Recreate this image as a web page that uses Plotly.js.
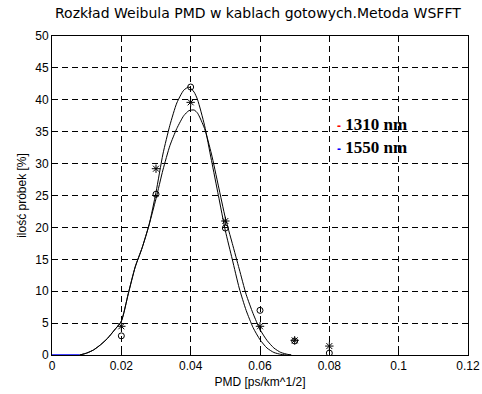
<!DOCTYPE html>
<html>
<head>
<meta charset="utf-8">
<script src="https://cdn.plot.ly/plotly-3.0.1.min.js"></script>
<style>html,body{margin:0;padding:0;background:#fff;}#chart{width:482px;height:394px;}</style>
</head>
<body>
<div id="chart"></div>
<script>
// Measured sample points (PMD, % of samples)
const pmdPoints = [0.02, 0.03, 0.04, 0.05, 0.06, 0.07, 0.08];
const stars1310 = [4.5, 29.2, 39.6, 21.0, 4.5, 2.3, 1.4];
const circles1550 = [3.0, 25.2, 42.0, 19.9, 7.0, 2.2, 0.3];

// Fitted Weibull curves
const curveX = [0.008, 0.010, 0.012, 0.014, 0.016, 0.018, 0.020, 0.022, 0.024, 0.026, 0.028, 0.030, 0.032, 0.034, 0.036, 0.038, 0.0395, 0.041, 0.042, 0.044, 0.046, 0.048, 0.050, 0.052, 0.054, 0.056, 0.058, 0.060, 0.062, 0.064, 0.066, 0.068, 0.069];
const curveA = [0, 0.3, 0.8, 1.6, 2.6, 3.9, 5.3, 9.6, 13.8, 16.8, 20.4, 25.5, 31.5, 36.0, 39.5, 41.5, 42.0, 41.2, 40.0, 36.0, 30.5, 25.0, 19.5, 15.0, 10.5, 7.0, 4.3, 2.4, 1.1, 0.4, 0.1, 0, 0];
const curveB = [0, 0.3, 0.8, 1.6, 2.6, 3.9, 5.3, 9.6, 13.8, 16.8, 20.4, 24.5, 29.0, 32.8, 35.5, 37.5, 38.3, 38.4, 37.9, 35.5, 31.5, 26.5, 21.5, 17.5, 13.5, 9.5, 6.5, 4.0, 2.3, 1.1, 0.4, 0.1, 0];
const baseX = [0, 0.008];
const baseY = [0, 0];

const xTicks = [0, 0.02, 0.04, 0.06, 0.08, 0.1, 0.12];
const xTickText = ['0', '0.02', '0.04', '0.06', '0.08', '0.1', '0.12'];
const yTicks = [0, 5, 10, 15, 20, 25, 30, 35, 40, 45, 50];

const legendLabels = ['1310 nm', '1550 nm'];
const legendColors = ['#ff0000', '#0000ff'];
const legendX = 0.0815;
const legendY = [36.2, 32.6];

const traces = [
  {x: baseX, y: baseY, mode: 'lines', line: {color: '#0000ff', width: 1.5}, hoverinfo: 'skip'},
  {x: curveX, y: curveA, mode: 'lines', line: {color: '#000', width: 1, shape: 'spline', smoothing: 0.6}},
  {x: curveX, y: curveB, mode: 'lines', line: {color: '#000', width: 1, shape: 'spline', smoothing: 0.6}},
  {x: pmdPoints, y: stars1310, mode: 'markers', marker: {symbol: 'asterisk-open', size: 7, color: '#000', line: {color: '#000', width: 1}}},
  {x: pmdPoints, y: circles1550, mode: 'markers', marker: {symbol: 'circle-open', size: 6, color: '#000', line: {color: '#000', width: 1}}}
];

const annotations = legendLabels.map((t, i) => ({
  x: legendX, y: legendY[i], xref: 'x', yref: 'y', xanchor: 'left', yanchor: 'middle', showarrow: false,
  text: '<span style="color:' + legendColors[i] + ';font-family:Liberation Sans;font-size:12px;font-weight:bold">-</span> <b>' + t + '</b>',
  font: {family: 'Liberation Serif', size: 17, color: '#000'}
}));

const layout = {
  width: 482, height: 394,
  margin: {l: 52, r: 14, t: 36, b: 39},
  paper_bgcolor: '#fff', plot_bgcolor: '#fff',
  showlegend: false,
  font: {family: 'Liberation Sans, Arial, sans-serif', size: 12, color: '#000'},
  title: {text: 'Rozkład Weibula PMD w kablach gotowych.Metoda WSFFT', font: {family: 'DejaVu Sans', size: 14, color: '#000'},
          x: 0.535, xanchor: 'center', y: 0.967, yanchor: 'middle', xref: 'container', yref: 'container'},
  xaxis: {range: [0, 0.12], tickvals: xTicks, ticktext: xTickText, showgrid: true, gridcolor: '#000', gridwidth: 1, griddash: '6px,4px',
          zeroline: false, showline: true, linecolor: '#000', linewidth: 1, mirror: 'ticks', ticks: 'inside', ticklen: 4, tickcolor: '#000',
          tickfont: {size: 12}, title: {text: 'PMD [ps/km^1/2]', font: {size: 12}, standoff: 5}},
  yaxis: {range: [0, 50], tickvals: yTicks, showgrid: true, gridcolor: '#000', gridwidth: 1, griddash: '6px,4px',
          zeroline: false, showline: true, linecolor: '#000', linewidth: 1, mirror: 'ticks', ticks: 'inside', ticklen: 4, tickcolor: '#000',
          tickfont: {size: 12}, title: {text: 'ilość próbek [%]', font: {size: 12}, standoff: 6}},
  annotations: annotations
};

Plotly.newPlot('chart', traces, layout, {displayModeBar: false, staticPlot: true});
</script>
</body>
</html>
